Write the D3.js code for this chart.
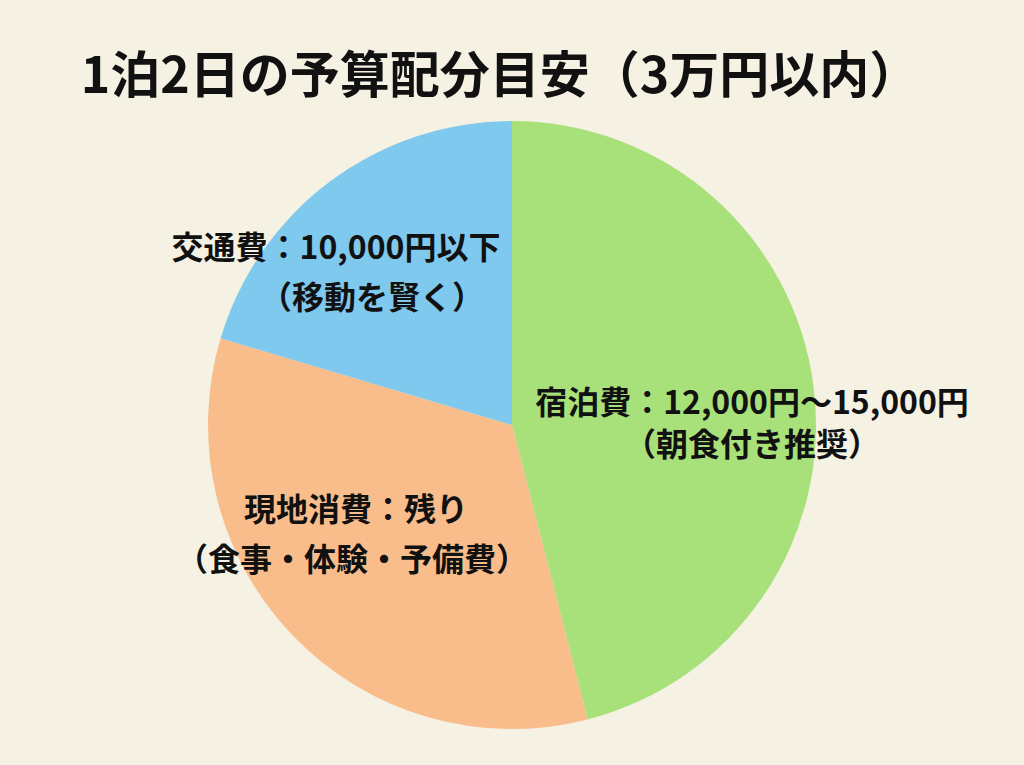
<!DOCTYPE html>
<html><head><meta charset="utf-8">
<script src="https://cdn.jsdelivr.net/npm/d3@7"></script>
<style>body{margin:0;background:#f5f1e3;}svg{display:block;}</style>
</head><body>
<svg id="chart" width="1024" height="765"></svg>
<script>
'use strict';
// Budget shares (percent of 30,000 yen)
const categories = ['宿泊費', '現地消費', '交通費'];
const shares = [46.0, 33.6, 20.4];
const colors = ['#a8e07a', '#f9bd8b', '#7fc8ee'];
const labelLines = [
    ['宿泊費：12,000円〜15,000円', '（朝食付き推奨）'],
    ['現地消費：残り', '（食事・体験・予備費）'],
    ['交通費：10,000円以下', '（移動を賢く）']
];
// per-line centre x and baseline y
const labelX = [[752, 752], [356, 352], [336, 372]];
const labelY = [[414, 456], [521, 571], [259, 309]];

const svg = d3.select('#chart');
const font = '"Noto Sans CJK JP", "Noto Sans", sans-serif';
const cx = 512, cy = 425, r = 304;

svg.append('text')
    .attr('x', 500).attr('y', 93)
    .attr('text-anchor', 'middle')
    .attr('font-family', font).attr('font-weight', 700)
    .attr('font-size', 50).attr('fill', '#111')
    .text('1泊2日の予算配分目安（3万円以内）');

const pie = d3.pie().sort(null).value(d => d);
const arc = d3.arc().innerRadius(0).outerRadius(r);
const g = svg.append('g').attr('transform', `translate(${cx},${cy})`);

g.selectAll('path')
    .data(pie(shares))
    .enter()
    .append('path')
        .attr('d', arc)
        .attr('fill', (d, i) => colors[i]);

labelLines.forEach((lines, i) => {
    const t = svg.append('text')
        .attr('text-anchor', 'middle')
        .attr('font-family', font).attr('font-weight', 700)
        .attr('font-size', 32).attr('fill', '#111');
    lines.forEach((line, j) => {
        t.append('tspan')
            .attr('x', labelX[i][j])
            .attr('y', labelY[i][j])
            .text(line);
    });
});
</script>
</body></html>
